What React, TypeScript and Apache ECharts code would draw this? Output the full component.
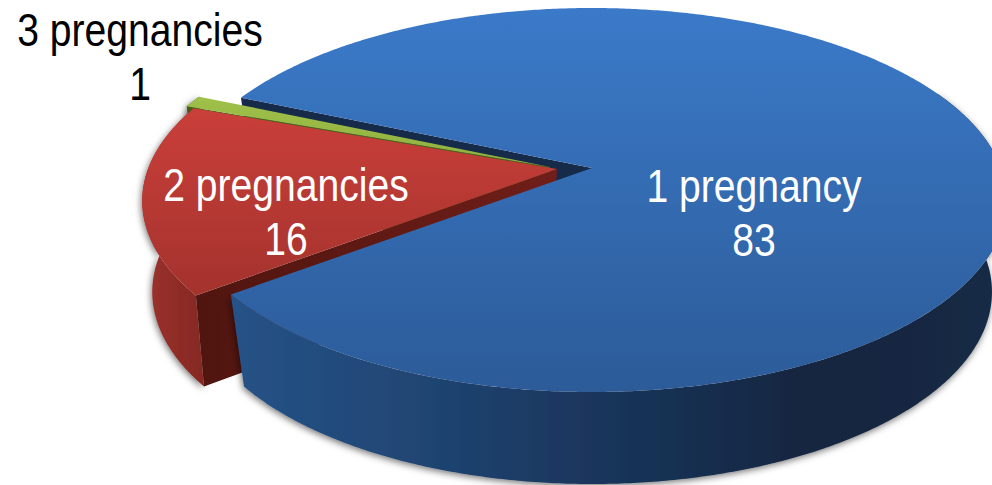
import React, { useEffect, useRef } from "react";
import * as echarts from "echarts";

const categories = ["1 pregnancy", "2 pregnancies", "3 pregnancies"];
const values = [83, 16, 1];

// Layout of the tilted pie (projection of a unit circle to the page)
const APEX = { x: 592, y: 168, sx: 409, sy: 186.67, k: -1 / 6 };
const DEPTH = { dy: 92, cx: 595, scale: 0.964 };
const START_ANGLE = 203.7;
const explode = [[0, 0], [-35, 1], [-42, -1]];
const lowerShift = [[0, 0], [-5, -1], [0, 0]];
const labelPos = [[754, 213, "#ffffff"], [286, 212, "#ffffff"], [140, 57, "#000000"]];

const sliceStyle = [
  {
    top: ["#3b7ac9", "#2c5b98"],
    wall: [[0, "#265287"], [0.2, "#214877"], [0.46, "#1a365d"], [0.75, "#14263f"], [1, "#152a45"]],
    cut: ["#162a4a", "#162a4a"],
  },
  {
    top: ["#ca3f3a", "#a4322d"],
    wall: [[0, "#9c322d"], [1, "#852823"]],
    cut: ["#50150f", "#701e19"],
  },
  {
    top: ["#9fc049", "#8fb03e"],
    wall: [[0, "#5a7420"], [1, "#5a7420"]],
    cut: ["#4a6015", "#4a6015"],
  },
];

type Pt = [number, number];

function rim(theta: number, i: number, lower: boolean, radius = 1): Pt {
  const a = (theta * Math.PI) / 180;
  const u = Math.cos(a) * radius;
  const v = Math.sin(a) * radius;
  const w = 1 + APEX.k * v;
  let x = APEX.x + (APEX.sx * u) / w;
  let y = APEX.y + (APEX.sy * v) / w;
  if (lower) {
    x = DEPTH.cx + (x - DEPTH.cx) * DEPTH.scale + lowerShift[i][0];
    y += DEPTH.dy + lowerShift[i][1];
  }
  return [x + explode[i][0], y + explode[i][1]];
}

function sliceAngles() {
  const total = values.reduce((s, v) => s + v, 0);
  let cur = START_ANGLE;
  return values.map((v) => {
    const start = cur;
    cur += (v / total) * 360;
    return [start, cur];
  });
}

function arcPts(a0: number, a1: number, i: number, lower: boolean): Pt[] {
  const pts: Pt[] = [];
  const n = Math.max(2, Math.ceil(Math.abs(a1 - a0) * 2));
  for (let j = 0; j <= n; j++) pts.push(rim(a0 + ((a1 - a0) * j) / n, i, lower));
  return pts;
}

function vGrad(c: string[]) {
  return new echarts.graphic.LinearGradient(0, 0, 0, 1, [
    { offset: 0, color: c[0] },
    { offset: 1, color: c[1] },
  ]);
}

function hGrad(stops: any[]) {
  return new echarts.graphic.LinearGradient(
    0, 0, 1, 0,
    stops.map((s) => ({ offset: s[0], color: s[1] }))
  );
}

// Painter's order: [slice index, part]
const drawOrder: [number, string][] = [
  [0, "cut"],
  [2, "wall"],
  [2, "cut"],
  [2, "top"],
  [1, "wall"],
  [1, "cut"],
  [1, "top"],
  [0, "wall"],
  [0, "top"],
];

function renderItem(params: any) {
  const [i, part] = drawOrder[params.dataIndex];
  const [a0, a1] = sliceAngles()[i];
  const st = sliceStyle[i];
  const big = a1 - a0 > 180;
  const children: any[] = [];
  if (part === "cut") {
    const pts = [rim(a0, i, false), rim(a0, i, false, 0), rim(a0, i, true, 0), rim(a0, i, true)];
    children.push({
      type: "polygon",
      shape: { points: pts },
      style: { fill: hGrad([[0, st.cut[0]], [1, st.cut[1]]]) },
    });
  } else if (part === "wall") {
    const from = big ? 335 : a0;
    const pts = [...arcPts(from, a1, i, false), ...arcPts(from, a1, i, true).reverse()];
    children.push({
      type: "polygon",
      shape: { points: pts },
      style: {
        fill: hGrad(st.wall),
        shadowBlur: 7,
        shadowColor: "rgba(0,0,0,0.55)",
        shadowOffsetX: -1,
        shadowOffsetY: 2,
      },
    });
  } else {
    const pts = [rim(a0, i, false, 0), ...arcPts(a0, a1, i, false)];
    children.push({
      type: "polygon",
      shape: { points: pts },
      style: { fill: vGrad(st.top) },
    });
    const [lx, ly, col] = labelPos[i];
    children.push({
      type: "text",
      x: lx as number,
      y: ly as number,
      scaleX: 0.85,
      style: {
        text: `${categories[i]}\n${values[i]}`,
        fill: col as string,
        font: '46px "Liberation Sans", Arial, sans-serif',
        lineHeight: 54,
        align: "center",
        verticalAlign: "middle",
      },
      z2: 10,
    });
  }
  return { type: "group", children };
}

export default function App() {
  const ref = useRef<HTMLDivElement>(null);
  useEffect(() => {
    const chart = echarts.init(ref.current!, undefined, { renderer: "svg" });
    chart.setOption({
      animation: false,
      backgroundColor: "#ffffff",
      series: [
        {
          type: "custom",
          coordinateSystem: "none",
          renderItem,
          silent: true,
          clip: false,
          data: drawOrder.map((d) => values[d[0]]),
        },
      ],
    });
    return () => chart.dispose();
  }, []);
  return (
    <div
      ref={ref}
      style={{ position: "fixed", left: 0, top: 0, width: 992, height: 485 }}
    />
  );
}
